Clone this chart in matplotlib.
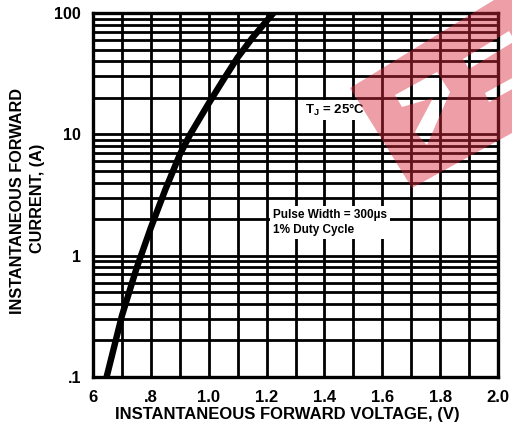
import numpy as np
import matplotlib
matplotlib.use('Agg')
import matplotlib.pyplot as plt
from matplotlib.path import Path
from matplotlib.patches import PathPatch
from matplotlib.ticker import FixedLocator, LogLocator, NullFormatter

plt.rcParams['font.family'] = ['Liberation Sans', 'DejaVu Sans']
plt.rcParams['font.weight'] = 'bold'
plt.rcParams['mathtext.fontset'] = 'custom'
plt.rcParams['mathtext.rm'] = 'Liberation Sans:bold'
plt.rcParams['mathtext.bf'] = 'Liberation Sans:bold'

# forward voltage (V) vs instantaneous forward current (A)
vf = [0.647, 0.70, 0.75, 0.80, 0.85, 0.90, 0.936, 1.00, 1.05, 1.10, 1.15, 1.20, 1.224]
i_f = [0.1, 0.32, 0.78, 1.7, 3.5, 6.8, 10, 18, 28, 43, 62, 86, 100]

x_ticks = [0.6, 0.8, 1.0, 1.2, 1.4, 1.6, 1.8, 2.0]
x_labels = ['6', '.8', '1.0', '1.2', '1.4', '1.6', '1.8', '2.0']
x_grid = [0.6, 0.7, 0.8, 0.9, 1.0, 1.1, 1.2, 1.3, 1.4, 1.5, 1.6, 1.7, 1.8, 1.9, 2.0]
y_ticks = [0.1, 1, 10, 100]
y_labels = ['.1', '1', '10', '100']

W, H = 512, 426
fig = plt.figure(figsize=(W / 100, H / 100), dpi=100)
ax = fig.add_axes([93 / W, 1 - 377 / H, (498 - 93) / W, (377 - 13) / H])

ax.plot(vf, i_f, color='black', lw=4.6, solid_capstyle='butt', zorder=3)

ax.set_yscale('log')
ax.set_xlim(0.6, 2.0)
ax.set_ylim(0.1, 100)
ax.set_xticks(x_ticks)
ax.set_xticklabels(x_labels, fontsize=12, fontweight='bold')
ax.xaxis.set_minor_locator(FixedLocator(x_grid))
ax.set_yticks(y_ticks)
ax.set_yticklabels(y_labels, fontsize=11.5, fontweight='bold')
ax.yaxis.set_minor_locator(LogLocator(base=10, subs=np.arange(2, 10)))
ax.yaxis.set_minor_formatter(NullFormatter())
ax.tick_params(axis='both', which='both', length=0)
ax.tick_params(axis='x', pad=9)
ax.tick_params(axis='y', pad=8.5)
ax.grid(True, which='both', color='black', lw=2.0)
ax.set_axisbelow(True)
for s in ax.spines.values():
    s.set_linewidth(2.4)

ax.text(1.333, 15.9, r'$\mathbf{T_J}$ = 25°C', fontsize=9.5, fontweight='bold',
        va='center', ha='left', zorder=4,
        bbox=dict(facecolor='white', edgecolor='none', pad=1.5))
ax.text(1.222, 1.88, 'Pulse Width = 300µs\n1% Duty Cycle', fontsize=8.5,
        fontweight='bold', va='center', ha='left', linespacing=1.3, zorder=4,
        bbox=dict(facecolor='white', edgecolor='none', pad=2))

fig.text(287 / W, 1 - 415 / H, 'INSTANTANEOUS FORWARD VOLTAGE, (V)',
         fontsize=12, fontweight='bold', ha='center', va='center')
fig.text(17.5 / W, 1 - 201 / H, 'INSTANTANEOUS FORWARD', fontsize=11.7,
         fontweight='bold', ha='center', va='center', rotation=90)
fig.text(37.5 / W, 1 - 198 / H, 'CURRENT, (A)', fontsize=11.7,
         fontweight='bold', ha='center', va='center', rotation=90)


# faint red watermark logo in the upper right, in pixel coords
def to_fig(pts):
    return [(x / W, 1 - y / H) for x, y in pts]


def area(pts):
    a = 0
    for k in range(len(pts)):
        x1, y1 = pts[k]
        x2, y2 = pts[(k + 1) % len(pts)]
        a += x1 * y2 - x2 * y1
    return a


outer = to_fig([(350, 88), (494, 0), (512, 0), (512, 133), (412, 188)])
holes = [
    to_fig([(395, 95), (437, 72), (450, 92), (427, 145), (415, 132), (433, 98), (402, 107)]),
    to_fig([(463, 59), (509, 31), (515, 41), (469, 69)]),
    to_fig([(485, 93), (514, 77), (516, 87), (489, 102)]),
]
polys = [outer]
for h in holes:
    if np.sign(area(h)) == np.sign(area(outer)):
        h = h[::-1]
    polys.append(h)
verts, codes = [], []
for p in polys:
    verts += p + [p[0]]
    codes += [Path.MOVETO] + [Path.LINETO] * (len(p) - 1) + [Path.CLOSEPOLY]
logo = PathPatch(Path(verts, codes), facecolor='#d8283a', edgecolor='none',
                 alpha=0.45, transform=fig.transFigure, zorder=10)
fig.add_artist(logo)

fig.savefig('out.png', dpi=100)
